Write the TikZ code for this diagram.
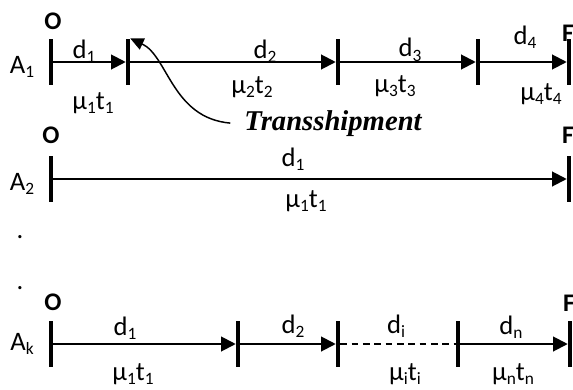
\documentclass[tikz,border=0pt]{standalone}
\usepackage{fontspec}
\setmainfont{Carlito}
\newfontfamily\tsfont{Liberation Serif}
\usetikzlibrary{arrows.meta}

\newcommand{\lo}[1]{\raisebox{-0.35ex}{\fontsize{13}{13}\selectfont #1}}

\begin{document}
\begin{tikzpicture}[x=0.75pt,y=-0.75pt,
        font=\fontsize{20}{23}\selectfont,
        tick/.style = {fill=black, inner sep=0pt, minimum width=3pt, minimum height=35pt},
        seg/.style = {line width=1.5pt, -{Triangle[length=11pt,width=11pt]}},
        gap/.style = {line width=1.2pt, dash pattern=on 5pt off 3.5pt},
        endpt/.style = {font=\fontsize{19}{22}\selectfont\bfseries},
        curve/.style = {line width=1.1pt, -{Triangle[length=10pt,width=9pt]}},
        ]
        \useasboundingbox (0,0) rectangle (573,389);

        % first route, with transshipment
        \node[tick] (a1) at (51,62) {};
        \node[tick] (b1) at (128,62) {};
        \node[tick] (c1) at (338,62) {};
        \node[tick] (e1) at (478,62) {};
        \node[tick] (f1) at (569,62) {};
        \node (A1) at (22,67) {A\lo{1}};
        \node[endpt] (O1) at (53,21) {O};
        \node[endpt] (F1) at (568,33) {F};
        \draw[seg] (a1) -- (b1);
        \draw[seg] (b1) -- (c1);
        \draw[seg] (c1) -- (e1);
        \draw[seg] (e1) -- (f1);
        \node (d11) at (84,51) {d\lo{1}};
        \node (m11) at (93,103) {μ\lo{1}t\lo{1}};
        \node (d12) at (265,51) {d\lo{2}};
        \node (m12) at (252,87) {μ\lo{2}t\lo{2}};
        \node (d13) at (410,50) {d\lo{3}};
        \node (m13) at (395,86) {μ\lo{3}t\lo{3}};
        \node (d14) at (525,37) {d\lo{4}};
        \node (m14) at (541,94) {μ\lo{4}t\lo{4}};

        \node[anchor=base, font=\fontsize{21.5}{24}\tsfont\bfseries\itshape] (ts) at (333,130) {Transshipment};
        \draw[curve] ([xshift=-7pt]ts.west) .. controls (172,118) and (168,56) .. (b1.north east);

        % second route, direct
        \node[tick] (a2) at (51,179) {};
        \node[tick] (f2) at (569,179) {};
        \node (A2) at (22,184) {A\lo{2}};
        \node[endpt] (O2) at (51,135) {O};
        \node[endpt] (F2) at (568,135) {F};
        \draw[seg] (a2) -- (f2);
        \node (d21) at (293,159) {d\lo{1}};
        \node (m21) at (306,201) {μ\lo{1}t\lo{1}};

        \node[anchor=base] (dot1) at (20,238) {.};
        \node[anchor=base] (dot2) at (20,289) {.};

        % k-th route
        \node[tick] (a3) at (51,344) {};
        \node[tick] (b3) at (238,344) {};
        \node[tick] (c3) at (338,344) {};
        \node[tick] (e3) at (458,344) {};
        \node[tick] (f3) at (570,344) {};
        \node (A3) at (22,344) {A\lo{k}};
        \node[endpt] (O3) at (53,302) {O};
        \node[endpt] (F3) at (569,303) {F};
        \draw[seg] (a3) -- (b3);
        \draw[seg] (b3) -- (c3);
        \draw[gap] (c3) -- (e3);
        \draw[seg] (e3) -- (f3);
        \node (d31) at (125,328) {d\lo{1}};
        \node (m31) at (133,374) {μ\lo{1}t\lo{1}};
        \node (d32) at (293,326) {d\lo{2}};
        \node (d3i) at (396,326) {d\lo{i}};
        \node (m3i) at (405,374) {μ\lo{i}t\lo{i}};
        \node (d3n) at (511,327) {d\lo{n}};
        \node (m3n) at (513,374) {μ\lo{n}t\lo{n}};
\end{tikzpicture}
\end{document}
